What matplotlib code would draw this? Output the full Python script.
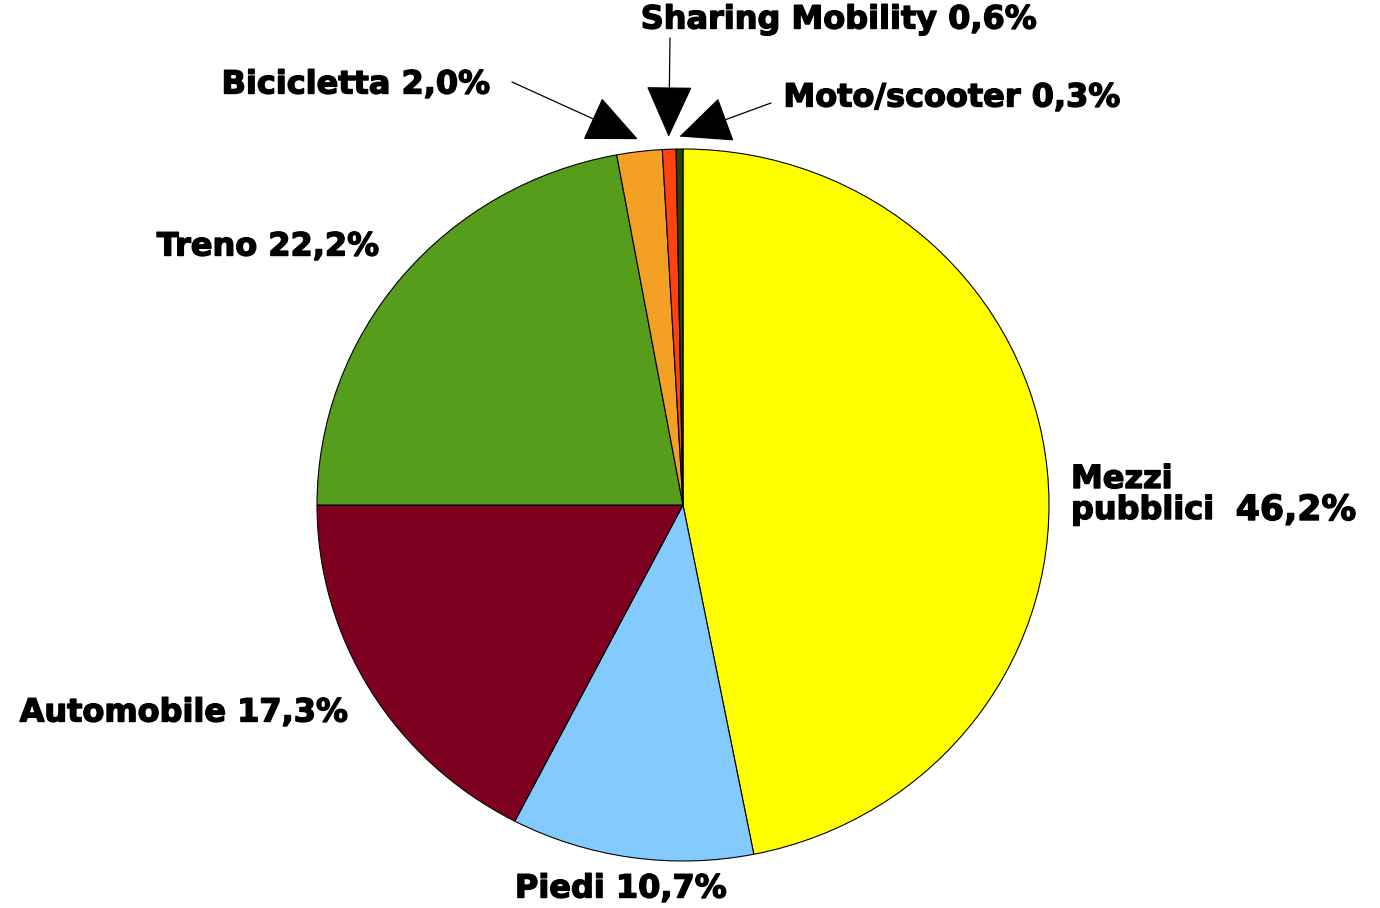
import matplotlib
matplotlib.use("Agg")
import matplotlib.pyplot as plt
import matplotlib.patheffects as pe
import numpy as np

# ─── Data ────────────────────────────────────────────────────────────────────
modes = ["Mezzi\npubblici", "Piedi", "Automobile", "Treno",
         "Bicicletta", "Sharing Mobility", "Moto/scooter"]
# percentages as printed in the labels
shares = [46.2, 10.7, 17.3, 22.2, 2.0, 0.6, 0.3]
slice_sizes = [46.9, 10.7, 17.4, 22.1, 2.0, 0.6, 0.3]
colors = ["#ffff00", "#83caff", "#7e0021", "#579d1c",
          "#f4a024", "#ff420e", "#314004"]

W, H = 1380, 908
fig = plt.figure(figsize=(W / 100, H / 100), dpi=100)
# pie box in pixels: x 317..1049, y 149..861 (image coords)
ax = fig.add_axes([317 / W, (H - 861) / H, 732 / W, 712 / H])
wedges, _ = ax.pie(slice_sizes, colors=colors, startangle=90, counterclock=False,
                   wedgeprops=dict(edgecolor="black", linewidth=0.8))
ax.set_aspect("auto")
ax.set_xlim(-1, 1)
ax.set_ylim(-1, 1)
ax.axis("off")

FONT = dict(family="DejaVu Sans", fontweight="bold", fontsize=23, color="black",
            path_effects=[pe.withStroke(linewidth=1.0, foreground="black")])


def fmt(v):
    return f"{v:.1f}".replace(".", ",") + "%"


# label placement (figure pixels, image y from top)
label_pos = {
    "Piedi": (621, 889),
    "Automobile": (184, 713),
    "Treno": (268, 247),
    "Bicicletta": (356, 85),
    "Sharing Mobility": (839, 20),
    "Moto/scooter": (952, 98),
}
for name, val in zip(modes, shares):
    if name in label_pos:
        x, y = label_pos[name]
        fig.text(x / W, (H - y) / H, f"{name} {fmt(val)}", ha="center", va="center", **FONT)

fig.text(1071 / W, (H - 495) / H, modes[0], ha="left", va="center",
         linespacing=1.0, **FONT)
fig.text(1296 / W, (H - 510) / H, fmt(shares[0]), ha="center", va="center",
         **{**FONT, "fontsize": 25})

# arrows for the small slices
arrow_start = {"Bicicletta": (512, 82), "Sharing Mobility": (670, 38),
               "Moto/scooter": (771, 103)}
for w, name in zip(wedges, modes):
    if name not in arrow_start:
        continue
    ang = np.deg2rad((w.theta1 + w.theta2) / 2)
    tip = (1.035 * np.cos(ang), 1.035 * np.sin(ang))
    sx, sy = arrow_start[name]
    ax.annotate("", xy=tip, xycoords="data",
                xytext=(sx, H - sy), textcoords="figure pixels",
                arrowprops=dict(arrowstyle="-|>,head_length=1.0,head_width=0.45",
                                mutation_scale=34, color="black", lw=0.9,
                                shrinkA=0, shrinkB=0),
                annotation_clip=False)

fig.savefig("out.png", dpi=100, facecolor="white")
